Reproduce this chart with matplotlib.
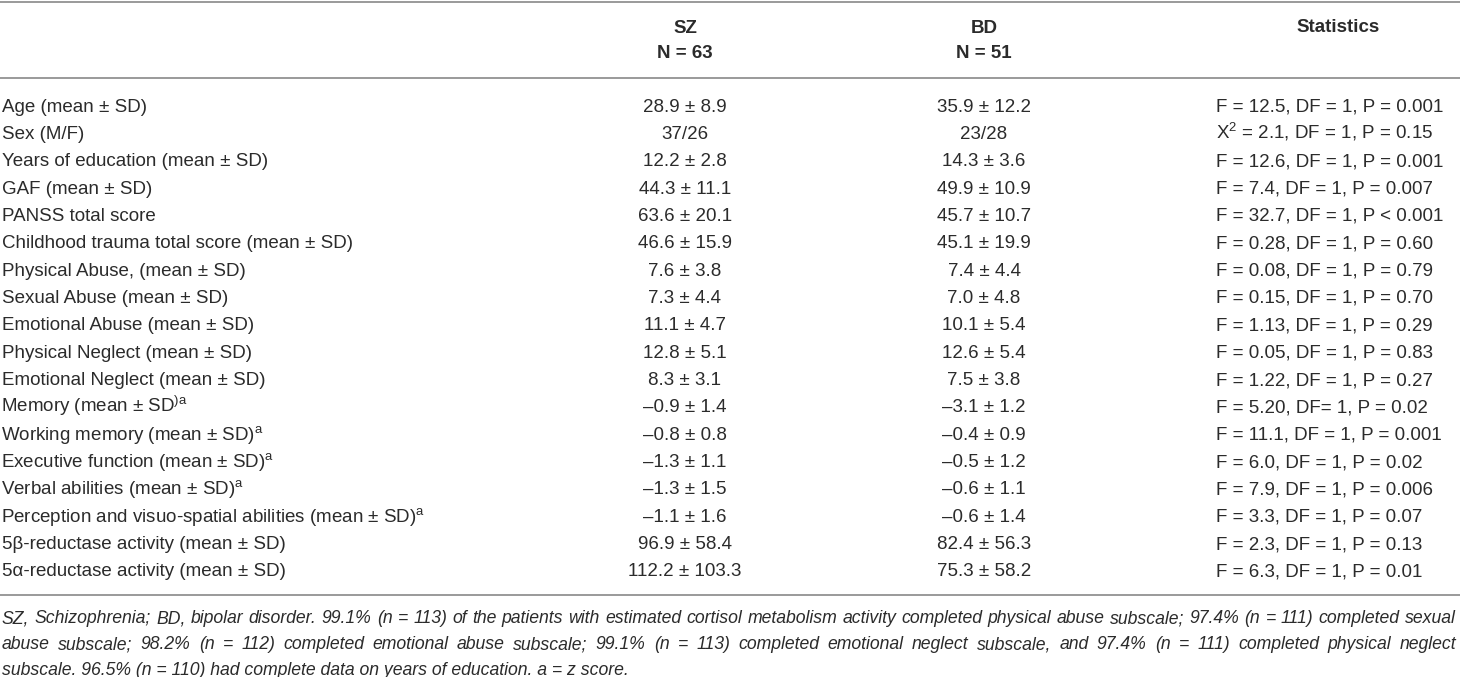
import matplotlib
matplotlib.use("Agg")
import matplotlib.pyplot as plt

plt.rcParams['font.family'] = ['Liberation Sans', 'DejaVu Sans']
plt.rcParams['mathtext.fontset'] = 'custom'
plt.rcParams['mathtext.rm'] = 'Liberation Sans'
plt.rcParams['mathtext.it'] = 'Liberation Sans:italic'

# Table content
row_labels = [
    "Age (mean ± SD)",
    "Sex (M/F)",
    "Years of education (mean ± SD)",
    "GAF (mean ± SD)",
    "PANSS total score",
    "Childhood trauma total score (mean ± SD)",
    "Physical Abuse, (mean ± SD)",
    "Sexual Abuse (mean ± SD)",
    "Emotional Abuse (mean ± SD)",
    "Physical Neglect (mean ± SD)",
    "Emotional Neglect (mean ± SD)",
    r"Memory (mean ± SD$^{\mathrm{)a}}$",
    r"Working memory (mean ± SD)$^{\mathrm{a}}$",
    r"Executive function (mean ± SD)$^{\mathrm{a}}$",
    r"Verbal abilities (mean ± SD)$^{\mathrm{a}}$",
    r"Perception and visuo-spatial abilities (mean ± SD)$^{\mathrm{a}}$",
    "5β-reductase activity (mean ± SD)",
    "5α-reductase activity (mean ± SD)",
]
sz_values = [
    "28.9 ± 8.9", "37/26", "12.2 ± 2.8", "44.3 ± 11.1", "63.6 ± 20.1",
    "46.6 ± 15.9", "7.6 ± 3.8", "7.3 ± 4.4", "11.1 ± 4.7", "12.8 ± 5.1",
    "8.3 ± 3.1", "–0.9 ± 1.4", "–0.8 ± 0.8", "–1.3 ± 1.1", "–1.3 ± 1.5",
    "–1.1 ± 1.6", "96.9 ± 58.4", "112.2 ± 103.3",
]
bd_values = [
    "35.9 ± 12.2", "23/28", "14.3 ± 3.6", "49.9 ± 10.9", "45.7 ± 10.7",
    "45.1 ± 19.9", "7.4 ± 4.4", "7.0 ± 4.8", "10.1 ± 5.4", "12.6 ± 5.4",
    "7.5 ± 3.8", "–3.1 ± 1.2", "–0.4 ± 0.9", "–0.5 ± 1.2", "–0.6 ± 1.1",
    "–0.6 ± 1.4", "82.4 ± 56.3", "75.3 ± 58.2",
]
statistics = [
    "F = 12.5, DF = 1, P = 0.001",
    r"X$^{\mathrm{2}}$ = 2.1, DF = 1, P = 0.15",
    "F = 12.6, DF = 1, P = 0.001",
    "F = 7.4, DF = 1, P = 0.007",
    "F = 32.7, DF = 1, P < 0.001",
    "F = 0.28, DF = 1, P = 0.60",
    "F = 0.08, DF = 1, P = 0.79",
    "F = 0.15, DF = 1, P = 0.70",
    "F = 1.13, DF = 1, P = 0.29",
    "F = 0.05, DF = 1, P = 0.83",
    "F = 1.22, DF = 1, P = 0.27",
    "F = 5.20, DF= 1, P = 0.02",
    "F = 11.1, DF = 1, P = 0.001",
    "F = 6.0, DF = 1, P = 0.02",
    "F = 7.9, DF = 1, P = 0.006",
    "F = 3.3, DF = 1, P = 0.07",
    "F = 2.3, DF = 1, P = 0.13",
    "F = 6.3, DF = 1, P = 0.01",
]
headers = ["SZ\nN = 63", "BD\nN = 51", "Statistics"]
footnote = [
    "SZ, Schizophrenia; BD, bipolar disorder. 99.1% (n = 113) of the patients with estimated cortisol metabolism activity completed physical abuse subscale; 97.4% (n = 111) completed sexual",
    "abuse subscale; 98.2% (n = 112) completed emotional abuse subscale; 99.1% (n = 113) completed emotional neglect subscale, and 97.4% (n = 111) completed physical neglect",
    "subscale. 96.5% (n = 110) had complete data on years of education. a = z score.",
]

txt = '#2b2b2b'
rule = '#9a9a9a'
fs = 13.5
fs_note = 12.7

fig = plt.figure(figsize=(14.6, 6.77), dpi=100)
ax = fig.add_axes([0, 0, 1, 1])
ax.set_xlim(0, 1460)
ax.set_ylim(677, 0)
ax.axis('off')

# column positions
x_label = 2
x_sz = 685
x_bd = 984
x_stat = 1216
x_stat_head = 1338
y0 = 105
dy = 27.35
note_right = 1456

# rules
for yl in [1.5, 78, 595]:
    ax.plot([0, 1460], [yl, yl], color=rule, lw=1.4, solid_capstyle='butt')

# header
ax.text(x_sz, 41, headers[0], ha='center', va='center', fontsize=fs, fontweight='bold',
        color=txt, linespacing=1.55)
ax.text(x_bd, 41, headers[1], ha='center', va='center', fontsize=fs, fontweight='bold',
        color=txt, linespacing=1.55)
ax.text(x_stat_head, 28, headers[2], ha='center', va='center', fontsize=fs, fontweight='bold',
        color=txt)

# body
for i, lab in enumerate(row_labels):
    yb = y0 + i * dy + 6.5
    xl = x_label - 1 if '$' in lab else x_label
    ax.text(xl, yb, lab, ha='left', va='baseline', fontsize=fs, color=txt)
    ax.text(x_sz, yb, sz_values[i], ha='center', va='baseline', fontsize=fs, color=txt)
    ax.text(x_bd, yb, bd_values[i], ha='center', va='baseline', fontsize=fs, color=txt)
    ax.text(x_stat, yb, statistics[i], ha='left', va='baseline', fontsize=fs, color=txt)

# footnote (first lines justified to the full width)
renderer = fig.canvas.get_renderer()
for j, line in enumerate(footnote):
    yb = 617 + j * 26 + 6
    if j == len(footnote) - 1:
        ax.text(x_label, yb, line, ha='left', va='baseline', fontsize=fs_note,
                style='italic', color=txt)
        continue
    words = line.split(' ')
    arts = [ax.text(0, yb, w, ha='left', va='baseline', fontsize=fs_note,
                    style='italic', color=txt) for w in words]
    widths = [a.get_window_extent(renderer).width for a in arts]
    gap = (note_right - x_label - sum(widths)) / (len(words) - 1)
    xpos = x_label
    for a, w in zip(arts, widths):
        a.set_x(xpos)
        xpos += w + gap

fig.savefig('out.png', dpi=100, facecolor='white')
